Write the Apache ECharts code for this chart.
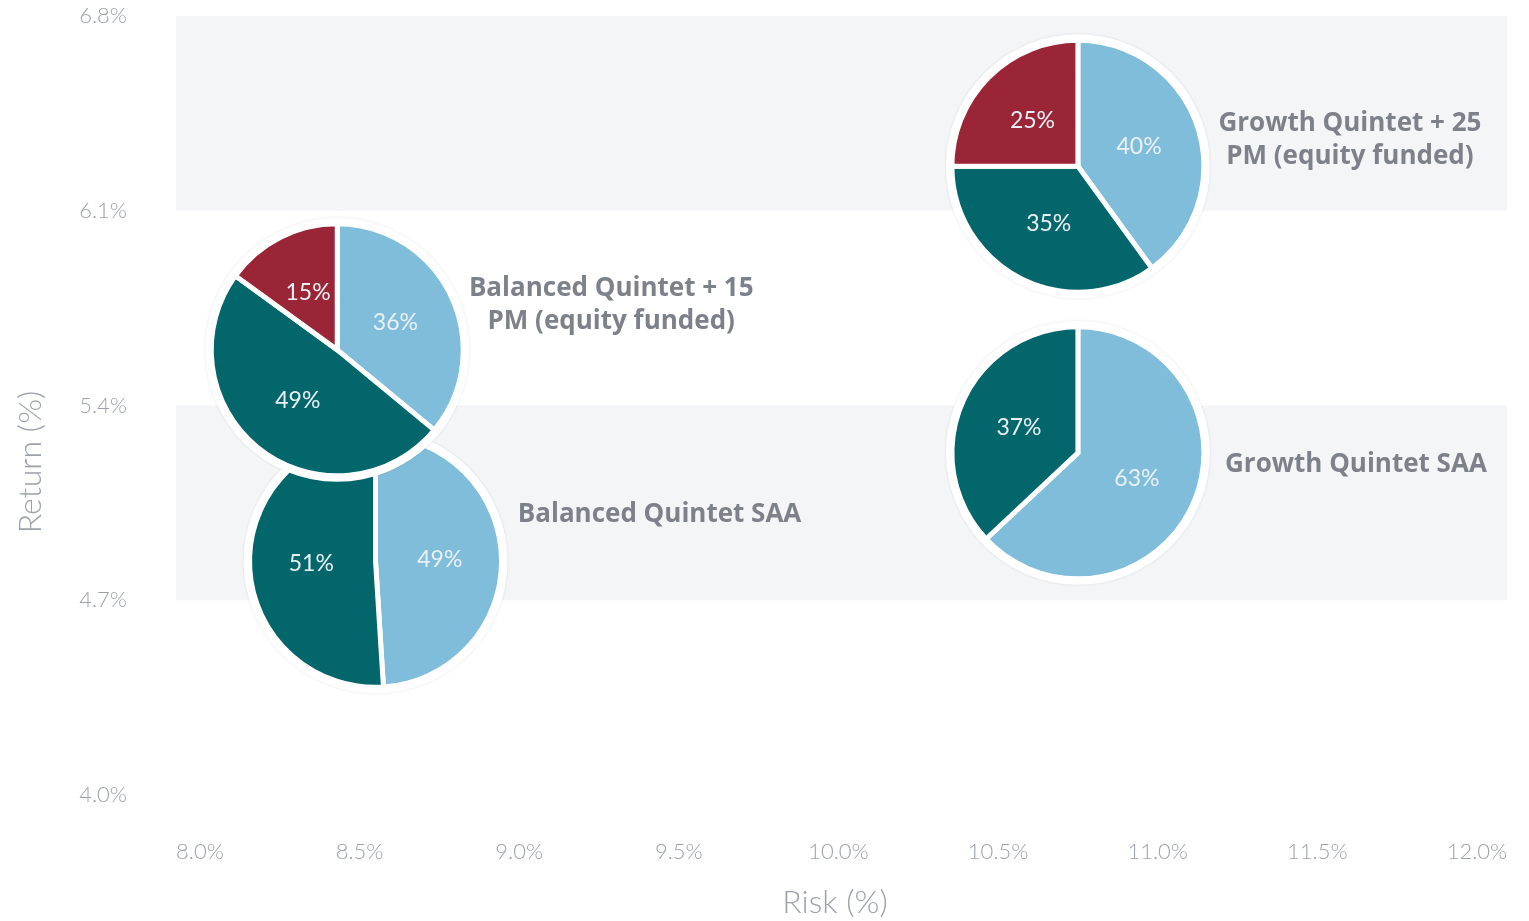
<!DOCTYPE html>
<html>
<head>
<meta charset="utf-8">
<script src="https://cdn.jsdelivr.net/npm/echarts@6/dist/echarts.min.js"></script>
<style>html,body{margin:0;padding:0;background:#fff}#c{width:1529px;height:921px}</style>
</head>
<body>
<div id="c"></div>
<script>
// ---- data ----
const portfolioNames = ['Balanced Quintet SAA', 'Balanced Quintet + 15\nPM (equity funded)', 'Growth Quintet SAA', 'Growth Quintet + 25\nPM (equity funded)'];
const riskValues = [8.55, 8.43, 10.75, 10.75];
const returnValues = [4.84, 5.60, 5.23, 6.26];
const lightBlueShare = [49, 36, 63, 40];
const tealShare = [51, 49, 37, 35];
const redShare = [0, 15, 0, 25];
const xTickValues = [8.0, 8.5, 9.0, 9.5, 10.0, 10.5, 11.0, 11.5, 12.0];
const yTickValues = [4.0, 4.7, 5.4, 6.1, 6.8];
const bandRanges = [[6.1, 6.8], [4.7, 5.4]];

// ---- style / layout ----
const sliceColors = ['#80bddb', '#02666b', '#9a2537'];
const nameOffsets = [[284, -47], [274, -45], [278, 12], [272, -26]];
const pieRadius = 126;

const chart = echarts.init(document.getElementById('c'));
const seriesData = riskValues.map((r, i) => [r, returnValues[i], lightBlueShare[i], tealShare[i], redShare[i], i]);

function renderItem(params, api) {
  const idx = api.value(5);
  const c = api.coord([api.value(0), api.value(1)]);
  const shares = [api.value(2), api.value(3), api.value(4)];
  const total = shares[0] + shares[1] + shares[2];
  const children = [];
  children.push({
    type: 'circle',
    shape: { cx: c[0], cy: c[1], r: pieRadius + 6 },
    style: { fill: '#ffffff', shadowBlur: 3, shadowColor: 'rgba(0,0,0,0.10)' }
  });
  let cum = 0;
  const labels = [];
  shares.forEach((s, k) => {
    if (!s) return;
    const a0 = -Math.PI / 2 + cum / total * Math.PI * 2;
    cum += s;
    const a1 = -Math.PI / 2 + cum / total * Math.PI * 2;
    children.push({
      type: 'sector',
      shape: { cx: c[0], cy: c[1], r0: 0, r: pieRadius, startAngle: a0, endAngle: a1, clockwise: true },
      style: { fill: sliceColors[k], stroke: '#ffffff', lineWidth: 5, lineJoin: 'miter' }
    });
    const mid = (a0 + a1) / 2;
    const d = pieRadius * 0.51;
    labels.push({
      type: 'text',
      style: {
        text: s + '%', x: c[0] + Math.cos(mid) * d, y: c[1] + Math.sin(mid) * d,
        fill: '#e9f1f5', fontSize: 23, fontWeight: 'normal', fontFamily: 'Lato', align: 'center', verticalAlign: 'middle'
      }
    });
  });
  labels.forEach(l => children.push(l));
  const off = nameOffsets[idx];
  children.push({
    type: 'text',
    style: {
      text: portfolioNames[idx], x: c[0] + off[0], y: c[1] + off[1],
      fill: '#7c818a', fontSize: 26, fontWeight: 'bold', fontFamily: 'Open Sans',
      align: 'center', verticalAlign: 'middle', lineHeight: 33
    }
  });
  return { type: 'group', children: children };
}

const axisFont = { color: '#9ca1aa', fontSize: 22, fontWeight: 300, fontFamily: 'Lato' };

const option = {
  backgroundColor: '#ffffff',
  animation: false,
  grid: { left: 176, right: 22, top: 16, bottom: 126, containLabel: false },
  xAxis: {
    type: 'value', min: 7.925, max: 12.094,
    axisLine: { show: false }, axisTick: { show: false }, splitLine: { show: false },
    axisLabel: Object.assign({ customValues: xTickValues, margin: 46, formatter: v => v.toFixed(1) + '%' }, axisFont)
  },
  yAxis: {
    type: 'value', min: 4.0, max: 6.8, interval: 0.7,
    axisLine: { show: false }, axisTick: { show: false }, splitLine: { show: false },
    axisLabel: Object.assign({ customValues: yTickValues, margin: 49, formatter: v => v.toFixed(1) + '%' }, axisFont)
  },
  graphic: [
    { type: 'text', x: 835, y: 903, style: { text: 'Risk (%)', fill: '#9ca1aa', fontSize: 32, fontWeight: 300, fontFamily: 'Lato', align: 'center', verticalAlign: 'middle' } },
    { type: 'text', x: 31, y: 462, rotation: Math.PI / 2, style: { text: 'Return (%)', fill: '#9ca1aa', fontSize: 32, fontWeight: 300, fontFamily: 'Lato', align: 'center', verticalAlign: 'middle' } }
  ],
  series: [{
    type: 'custom',
    renderItem: renderItem,
    data: seriesData,
    clip: false,
    markArea: {
      silent: true,
      itemStyle: { color: '#f4f5f7' },
      data: bandRanges.map(b => [{ yAxis: b[0] }, { yAxis: b[1] }])
    }
  }]
};
chart.setOption(option);
</script>
</body>
</html>
